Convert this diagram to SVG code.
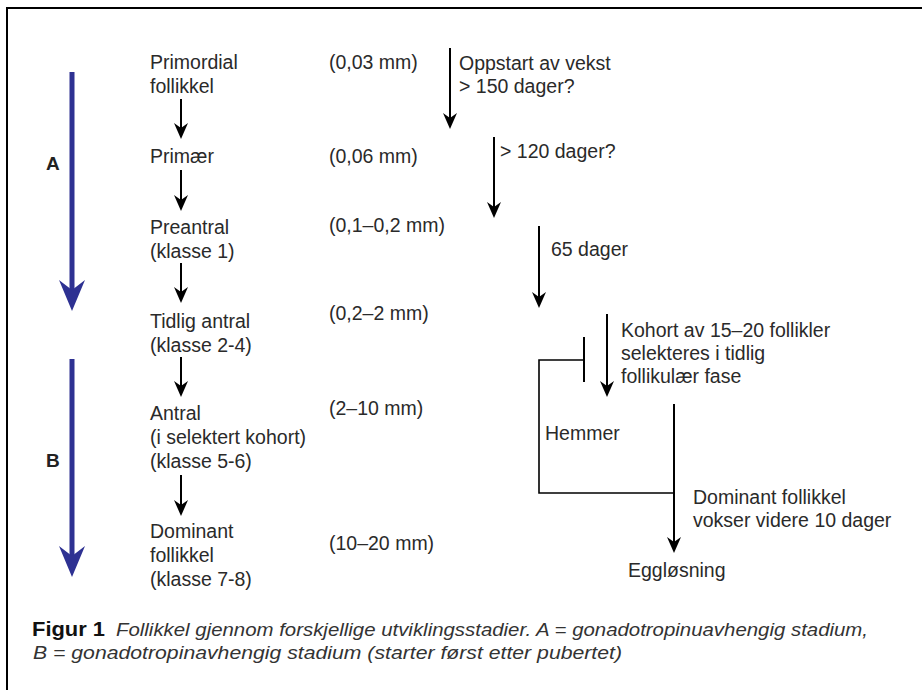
<svg xmlns="http://www.w3.org/2000/svg" width="922" height="690" viewBox="0 0 922 690">
<style>
.t{font-family:"Liberation Sans",Arial,sans-serif;font-size:19.5px;fill:#2a2a2a}
.lb{font-family:"Liberation Sans",Arial,sans-serif;font-size:19px;font-weight:bold;fill:#222}
.ln{stroke:#000;stroke-width:2;fill:none}
.bl{stroke:#2e3192;stroke-width:5;fill:none}
.cap{font-family:"Liberation Sans",Arial,sans-serif;font-size:18.5px;font-style:italic;fill:#333}
.capb{font-family:"Liberation Sans",Arial,sans-serif;font-size:20px;font-weight:bold;fill:#111}
</style>
<defs>
<marker id="ah" viewBox="0 0 16 14" markerWidth="16" markerHeight="14" refX="8" refY="7" orient="auto" markerUnits="userSpaceOnUse">
<path d="M0,0 L16,7 L0,14 L5,7 Z" fill="#000"/>
</marker>
<marker id="bh" viewBox="0 0 31 26" markerWidth="31" markerHeight="26" refX="12" refY="13" orient="auto" markerUnits="userSpaceOnUse">
<path d="M0,0 L31,13 L0,26 L10,13 Z" fill="#2e3192"/>
</marker>
</defs>
<rect width="922" height="690" fill="#fff"/>
<path d="M7,690 V8 H922" stroke="#000" stroke-width="2" fill="none"/>

<g id="phaseA">
<line class="bl" x1="72" y1="72" x2="72" y2="292" marker-end="url(#bh)"/>
<text class="lb" x="46" y="170">A</text>
</g>
<g id="phaseB">
<line class="bl" x1="72" y1="359" x2="72" y2="558" marker-end="url(#bh)"/>
<text class="lb" x="46" y="467">B</text>
</g>

<g id="primordial">
<text class="t" x="150" y="69">Primordial</text>
<text class="t" x="150" y="93">follikkel</text>
<text class="t" x="329" y="69">(0,03 mm)</text>
</g>
<g id="primaer">
<text class="t" x="150" y="163">Primær</text>
<text class="t" x="329" y="163">(0,06 mm)</text>
</g>
<g id="preantral">
<text class="t" x="150" y="234">Preantral</text>
<text class="t" x="150" y="258">(klasse 1)</text>
<text class="t" x="329" y="232">(0,1–0,2 mm)</text>
</g>
<g id="tidlig">
<text class="t" x="150" y="328">Tidlig antral</text>
<text class="t" x="150" y="352">(klasse 2-4)</text>
<text class="t" x="329" y="320">(0,2–2 mm)</text>
</g>
<g id="antral">
<text class="t" x="150" y="420">Antral</text>
<text class="t" x="150" y="444">(i selektert kohort)</text>
<text class="t" x="150" y="468">(klasse 5-6)</text>
<text class="t" x="329" y="415">(2–10 mm)</text>
</g>
<g id="dominant">
<text class="t" x="150" y="538">Dominant</text>
<text class="t" x="150" y="562">follikkel</text>
<text class="t" x="150" y="586">(klasse 7-8)</text>
<text class="t" x="329" y="550">(10–20 mm)</text>
</g>
<g id="egglosning">
<text class="t" x="628" y="577">Eggløsning</text>
</g>

<g id="connectors">
<line class="ln" x1="181" y1="99" x2="181" y2="131" marker-end="url(#ah)"/>
<line class="ln" x1="181" y1="170" x2="181" y2="203" marker-end="url(#ah)"/>
<line class="ln" x1="181" y1="263" x2="181" y2="295" marker-end="url(#ah)"/>
<line class="ln" x1="181" y1="357" x2="181" y2="389" marker-end="url(#ah)"/>
<line class="ln" x1="181" y1="475" x2="181" y2="508" marker-end="url(#ah)"/>

<line class="ln" x1="450" y1="48" x2="450" y2="121" marker-end="url(#ah)"/>
<line class="ln" x1="494" y1="137" x2="494" y2="210" marker-end="url(#ah)"/>
<line class="ln" x1="539" y1="226" x2="539" y2="300" marker-end="url(#ah)"/>
<line class="ln" x1="607" y1="314" x2="607" y2="389" marker-end="url(#ah)"/>
<line class="ln" x1="674" y1="404" x2="674" y2="545" marker-end="url(#ah)"/>

<path d="M584,337 V382" stroke="#000" stroke-width="2" fill="none"/>
<path d="M584,360 H539 V493 H674" stroke="#000" stroke-width="1.6" fill="none"/>

<text class="t" x="459" y="70">Oppstart av vekst</text>
<text class="t" x="459" y="93">&gt; 150 dager?</text>
<text class="t" x="500" y="158">&gt; 120 dager?</text>
<text class="t" x="551" y="256">65 dager</text>
<text class="t" x="621" y="337">Kohort av 15–20 follikler</text>
<text class="t" x="621" y="360">selekteres i tidlig</text>
<text class="t" x="621" y="383">follikulær fase</text>
<text class="t" x="545" y="440">Hemmer</text>
<text class="t" x="693" y="504">Dominant follikkel</text>
<text class="t" x="693" y="527">vokser videre 10 dager</text>
</g>

<g id="caption">
<text class="capb" x="32" y="636" textLength="73" lengthAdjust="spacingAndGlyphs">Figur 1</text>
<text class="cap" x="116" y="636" textLength="752" lengthAdjust="spacingAndGlyphs">Follikkel gjennom forskjellige utviklingsstadier. A = gonadotropinuavhengig stadium,</text>
<text class="cap" x="33" y="659" textLength="589" lengthAdjust="spacingAndGlyphs">B = gonadotropinavhengig stadium (starter først etter pubertet)</text>
</g>
</svg>
